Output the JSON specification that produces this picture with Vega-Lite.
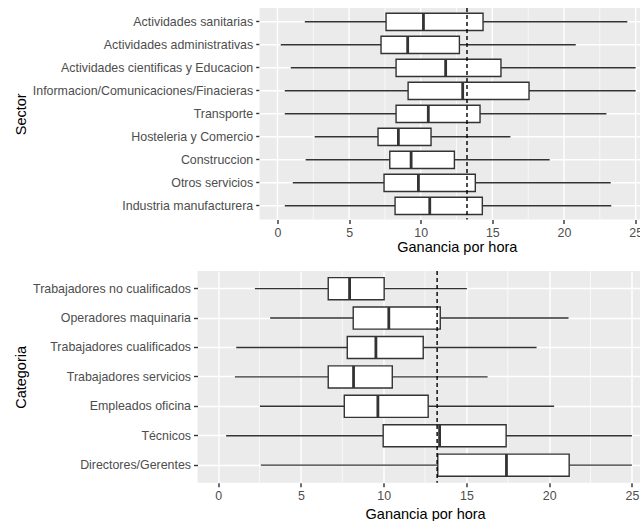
{
  "$schema": "https://vega.github.io/schema/vega-lite/v6.json",
  "background": "white",
  "padding": {"left": 13.5, "top": 7, "right": 0, "bottom": 0},
  "autosize": {"type": "pad"},
  "config": {
    "font": "Liberation Sans",
    "view": {"fill": "#EBEBEB", "stroke": null},
    "axis": {
      "domain": false,
      "grid": true,
      "gridColor": "#FFFFFF",
      "gridWidth": 1.4,
      "tickColor": "#333333",
      "tickSize": 4,
      "tickWidth": 1.4,
      "labelColor": "#4D4D4D",
      "labelFontSize": 12.4,
      "labelPadding": 3,
      "labelLimit": 400,
      "titleColor": "#000000",
      "titleFontSize": 14.5,
      "titleFontWeight": "normal"
    }
  },
  "datasets": {
    "sector": [
      {"Sector": "Actividades sanitarias", "lo": 1.91, "q1": 7.58, "med": 10.19, "q3": 14.35, "hi": 24.42},
      {"Sector": "Actividades administrativas", "lo": 0.23, "q1": 7.23, "med": 9.09, "q3": 12.7, "hi": 20.82},
      {"Sector": "Actividades cientificas y Educacion", "lo": 0.93, "q1": 8.28, "med": 11.74, "q3": 15.6, "hi": 25.0},
      {"Sector": "Informacion/Comunicaciones/Finacieras", "lo": 0.51, "q1": 9.12, "med": 12.93, "q3": 17.56, "hi": 25.0},
      {"Sector": "Transporte", "lo": 0.51, "q1": 8.28, "med": 10.53, "q3": 14.14, "hi": 22.96},
      {"Sector": "Hosteleria y Comercio", "lo": 2.6, "q1": 7.02, "med": 8.44, "q3": 10.72, "hi": 16.26},
      {"Sector": "Construccion", "lo": 1.97, "q1": 7.84, "med": 9.33, "q3": 12.35, "hi": 19.0},
      {"Sector": "Otros servicios", "lo": 1.07, "q1": 7.44, "med": 9.84, "q3": 13.81, "hi": 23.26},
      {"Sector": "Industria manufacturera", "lo": 0.51, "q1": 8.21, "med": 10.63, "q3": 14.3, "hi": 23.3}
    ],
    "categoria": [
      {"Categoria": "Trabajadores no cualificados", "lo": 2.22, "q1": 6.65, "med": 7.94, "q3": 10.03, "hi": 15.03},
      {"Categoria": "Operadores maquinaria", "lo": 3.14, "q1": 8.16, "med": 10.31, "q3": 13.42, "hi": 21.17},
      {"Categoria": "Trabajadores cualificados", "lo": 1.09, "q1": 7.8, "med": 9.53, "q3": 12.39, "hi": 19.24},
      {"Categoria": "Trabajadores servicios", "lo": 1.01, "q1": 6.65, "med": 8.18, "q3": 10.52, "hi": 16.28},
      {"Categoria": "Empleados oficina", "lo": 2.52, "q1": 7.62, "med": 9.65, "q3": 12.69, "hi": 20.3},
      {"Categoria": "Técnicos", "lo": 0.48, "q1": 9.97, "med": 13.38, "q3": 17.4, "hi": 25.0},
      {"Categoria": "Directores/Gerentes", "lo": 2.58, "q1": 13.27, "med": 17.42, "q3": 21.21, "hi": 25.0}
    ],
    "rejilla_menor": [
      {"v": 2.5}, {"v": 7.5}, {"v": 12.5}, {"v": 17.5}, {"v": 22.5}
    ],
    "rejilla_mayor": [
      {"v": 0}, {"v": 5}, {"v": 10}, {"v": 15}, {"v": 20}, {"v": 25}
    ],
    "media": [{"ganancia": 13.23}]
  },
  "concat": [
    {
      "width": 443,
      "height": 211.6,
      "view": {"fill": "#FFFFFF", "stroke": null},
      "layer": [
        {
          "data": {"name": "media"},
          "mark": {"type": "rect", "color": "#EBEBEB"},
          "encoding": {
            "x": {
              "datum": -1.25, "type": "quantitative",
              "scale": {"domain": [-5.58, 25.34], "nice": false, "zero": false},
              "axis": {"title": "Ganancia por hora", "grid": false, "values": [0, 5, 10, 15, 20, 25], "titleX": 259.3, "titleY": 20.8}
            },
            "x2": {"datum": 25.34}
          }
        },
        {
          "data": {"name": "sector"},
          "mark": {"type": "rule", "color": "#FFFFFF", "strokeWidth": 1.4},
          "encoding": {
            "y": {
              "field": "Sector", "type": "nominal", "sort": null,
              "scale": {"paddingInner": 0, "paddingOuter": 0.1},
              "axis": {"title": "Sector", "grid": false, "offset": -62.2, "titleX": -230.8, "bandPosition": 0.5}
            },
            "x": {"datum": -1.25, "type": "quantitative"},
            "x2": {"datum": 25.34}
          }
        },
        {
          "data": {"name": "rejilla_menor"},
          "mark": {"type": "rule", "color": "#FFFFFF", "strokeWidth": 0.7},
          "encoding": {"x": {"field": "v", "type": "quantitative"}}
        },
        {
          "data": {"name": "rejilla_mayor"},
          "mark": {"type": "rule", "color": "#FFFFFF", "strokeWidth": 1.4},
          "encoding": {"x": {"field": "v", "type": "quantitative"}}
        },
        {
          "data": {"name": "sector"},
          "mark": {"type": "rule", "color": "#333333", "strokeWidth": 1.4},
          "encoding": {
            "y": {"field": "Sector", "type": "nominal", "sort": null},
            "x": {"field": "lo", "type": "quantitative"},
            "x2": {"field": "hi"}
          }
        },
        {
          "data": {"name": "sector"},
          "mark": {"type": "bar", "fill": "#FFFFFF", "stroke": "#333333", "strokeWidth": 1.4, "height": {"band": 0.75}},
          "encoding": {
            "y": {"field": "Sector", "type": "nominal", "sort": null},
            "x": {"field": "q1", "type": "quantitative"},
            "x2": {"field": "q3"}
          }
        },
        {
          "data": {"name": "sector"},
          "mark": {"type": "tick", "color": "#333333", "size": 17.25, "thickness": 2.8, "opacity": 1},
          "encoding": {
            "y": {"field": "Sector", "type": "nominal", "sort": null},
            "x": {"field": "med", "type": "quantitative"}
          }
        },
        {
          "data": {"name": "media"},
          "mark": {"type": "rule", "color": "#000000", "strokeWidth": 1.4, "strokeDash": [4, 3]},
          "encoding": {
            "x": {"field": "ganancia", "type": "quantitative"}
          }
        }
      ]
    },
    {
      "width": 443,
      "height": 211.8,
      "layer": [
        {
          "data": {"name": "rejilla_menor"},
          "mark": {"type": "rule", "color": "#FFFFFF", "strokeWidth": 0.7},
          "encoding": {
            "x": {
              "field": "v", "type": "quantitative",
              "scale": {"domain": [-1.25, 25.52], "nice": false, "zero": false},
              "axis": {"title": "Ganancia por hora", "values": [0, 5, 10, 15, 20, 25], "titleX": 227.6, "titleY": 24.2}
            }
          }
        },
        {
          "data": {"name": "categoria"},
          "mark": {"type": "rule", "color": "#333333", "strokeWidth": 1.4},
          "encoding": {
            "y": {
              "field": "Categoria", "type": "nominal", "sort": null,
              "scale": {"paddingInner": 0, "paddingOuter": 0.1},
              "axis": {"title": "Categoria", "titleX": -168.6, "bandPosition": 0.5}
            },
            "x": {"field": "lo", "type": "quantitative"},
            "x2": {"field": "hi"}
          }
        },
        {
          "data": {"name": "categoria"},
          "mark": {"type": "bar", "fill": "#FFFFFF", "stroke": "#333333", "strokeWidth": 1.4, "height": {"band": 0.75}},
          "encoding": {
            "y": {"field": "Categoria", "type": "nominal", "sort": null},
            "x": {"field": "q1", "type": "quantitative"},
            "x2": {"field": "q3"}
          }
        },
        {
          "data": {"name": "categoria"},
          "mark": {"type": "tick", "color": "#333333", "size": 22.1, "thickness": 2.8, "opacity": 1},
          "encoding": {
            "y": {"field": "Categoria", "type": "nominal", "sort": null},
            "x": {"field": "med", "type": "quantitative"}
          }
        },
        {
          "data": {"name": "media"},
          "mark": {"type": "rule", "color": "#000000", "strokeWidth": 1.4, "strokeDash": [4, 3]},
          "encoding": {
            "x": {"field": "ganancia", "type": "quantitative"}
          }
        }
      ]
    }
  ],
  "columns": 1,
  "spacing": 16
}
